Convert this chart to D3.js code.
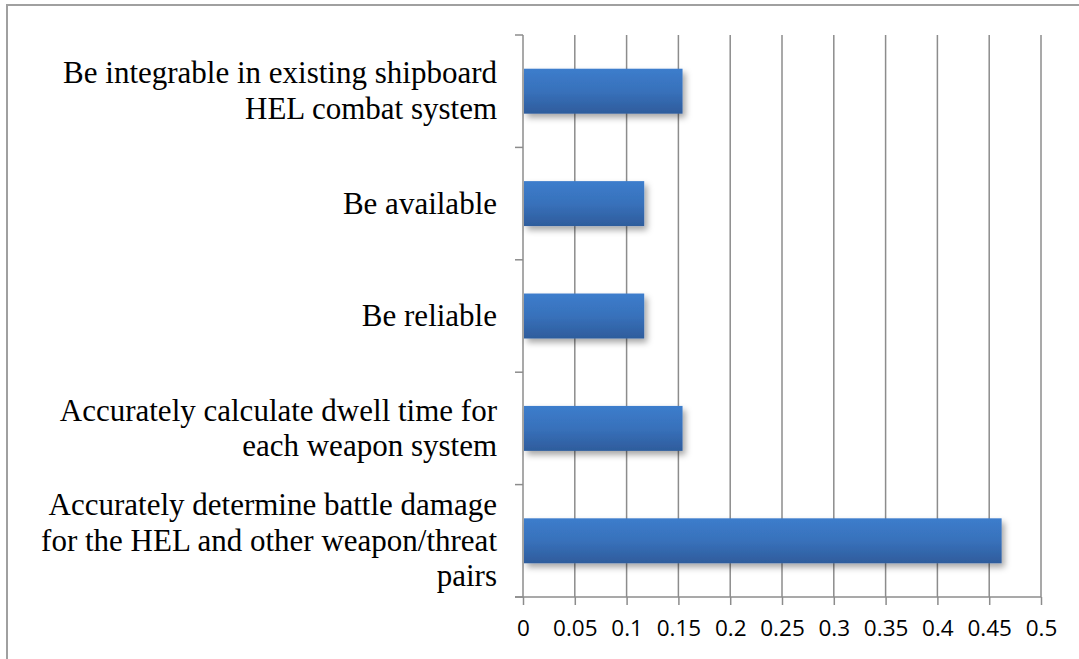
<!DOCTYPE html>
<html lang="en">
<head>
  <meta charset="UTF-8">
  <title>Requirement weights</title>
  <script src="https://cdn.jsdelivr.net/npm/d3@7"></script>
</head>

<style>
body {
  margin: 0;
  background: white;
}
.grid line {
  stroke: #8c8c8c;
  stroke-width: 1.5;
}
.axis path, .axis line {
  stroke: #8c8c8c;
  stroke-width: 1.5;
}
</style>

<body>
  <svg width="1079" height="659"></svg>

  <script>
    // categories, top to bottom (lines split with \n)
    var categories = [
      "Be integrable in existing shipboard\nHEL combat system",
      "Be available",
      "Be reliable",
      "Accurately calculate dwell time for\neach weapon system",
      "Accurately determine battle damage\nfor the HEL and other weapon/threat\npairs"
    ]
    var values = [0.154, 0.117, 0.117, 0.154, 0.462]
    var xTicks = [0, 0.05, 0.1, 0.15, 0.2, 0.25, 0.3, 0.35, 0.4, 0.45, 0.5]

    var svg = d3.select('svg')

    // outer chart border (runs off the right / bottom of the picture)
    svg.append('rect')
      .attr('x', 7).attr('y', 5)
      .attr('width', 1200).attr('height', 800)
      .attr('fill', 'none')
      .attr('stroke', '#a0a0a0')
      .attr('stroke-width', 2)

    var defs = svg.append('defs')
    var grad = defs.append('linearGradient')
      .attr('id', 'barGrad')
      .attr('x1', 0).attr('y1', 0).attr('x2', 0).attr('y2', 1)
    grad.append('stop').attr('offset', '0%').attr('stop-color', '#3c7dcc')
    grad.append('stop').attr('offset', '50%').attr('stop-color', '#3871bb')
    grad.append('stop').attr('offset', '100%').attr('stop-color', '#2e5c9c')

    var shadow = defs.append('filter')
      .attr('id', 'shadow')
      .attr('x', '-5%').attr('y', '-20%')
      .attr('width', '115%').attr('height', '160%')
    shadow.append('feDropShadow')
      .attr('dx', 3).attr('dy', 4)
      .attr('stdDeviation', 3)
      .attr('flood-color', '#000')
      .attr('flood-opacity', 0.35)

    var plotL = 523, plotR = 1041, plotT = 35, plotB = 597

    var x = d3.scaleLinear()
      .domain([0, 0.5])
      .range([plotL, plotR])

    var y = d3.scaleBand()
      .domain(categories)
      .range([plotT, plotB])
      .paddingInner(0.6)
      .paddingOuter(0.3)

    var yEdges = d3.scaleLinear()
      .domain([0, categories.length])
      .range([plotT, plotB])

    // vertical gridlines
    svg.append('g')
      .attr('class', 'grid')
      .selectAll('line')
      .data(xTicks.slice(1))
      .enter()
      .append('line')
      .attr('x1', d => x(d)).attr('x2', d => x(d))
      .attr('y1', plotT).attr('y2', plotB)

    // left axis with ticks at category boundaries
    var yAxis = svg.append('g').attr('class', 'axis')
    yAxis.append('line')
      .attr('x1', plotL).attr('x2', plotL)
      .attr('y1', plotT).attr('y2', plotB)
    yAxis.selectAll('line.tick')
      .data(d3.range(categories.length + 1))
      .enter()
      .append('line')
      .attr('class', 'tick')
      .attr('x1', plotL - 8).attr('x2', plotL)
      .attr('y1', d => yEdges(d)).attr('y2', d => yEdges(d))

    // bottom axis
    var xAxis = svg.append('g')
      .attr('class', 'axis')
      .attr('transform', 'translate(0,' + plotB + ')')
      .call(d3.axisBottom(x)
        .tickValues(xTicks)
        .tickSize(8)
        .tickPadding(15)
        .tickFormat(d => String(d)))
    xAxis.select('.domain')
      .attr('d', 'M' + (plotL - 8) + ',0H' + plotR)
    xAxis.selectAll('text')
      .style('font-family', '"Open Sans", sans-serif')
      .style('font-size', '22.5px')
      .attr('fill', '#000')

    // bars
    svg.append('g')
      .selectAll('rect')
      .data(values)
      .enter()
      .append('rect')
      .attr('x', x(0) + 1)
      .attr('y', (d, i) => y(categories[i]))
      .attr('width', d => x(d) - x(0) - 1)
      .attr('height', y.bandwidth())
      .attr('fill', 'url(#barGrad)')
      .attr('filter', 'url(#shadow)')

    // category labels
    var lineH = 35.5
    svg.append('g')
      .selectAll('text')
      .data(categories)
      .enter()
      .append('text')
      .attr('text-anchor', 'end')
      .style('font-family', '"Liberation Serif", "Times New Roman", serif')
      .style('font-size', '31px')
      .attr('fill', '#000')
      .each(function(d) {
        var lines = d.split('\n')
        var cy = y(d) + y.bandwidth() / 2
        var y0 = cy - (lines.length - 1) * lineH / 2 + 10
        d3.select(this).selectAll('tspan')
          .data(lines)
          .enter()
          .append('tspan')
          .attr('x', 497)
          .attr('y', (l, i) => y0 + i * lineH)
          .text(l => l)
      })
  </script>
</body>
</html>
